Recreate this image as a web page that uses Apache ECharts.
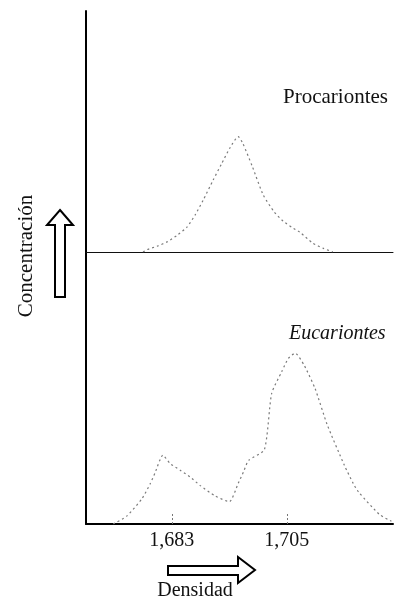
<!DOCTYPE html>
<html>
<head>
<meta charset="utf-8">
<script src="https://cdn.jsdelivr.net/npm/echarts@6/dist/echarts.min.js"></script>
<style>
  html, body { margin: 0; padding: 0; background: #fff; }
  #chart { width: 401px; height: 600px; }
</style>
</head>
<body>
<div id="chart"></div>
<script>
// Density axis range and labelled ticks
const densityMin = 1.6666;
const densityMax = 1.7253;
const tickValues = [1.683, 1.705];
const tickLabels = ['1,683', '1,705'];

// Prokaryote band: [density, concentration]
const procariontes = [
  [1.6775, 0], [1.6783, 1.0], [1.6802, 2.4], [1.6822, 4.3], [1.6840, 6.9],
  [1.6859, 10.3], [1.6875, 15.5], [1.6890, 21.5], [1.6909, 29.8], [1.6925, 36.5],
  [1.6942, 43.5], [1.6957, 47.9], [1.6966, 45.0], [1.6984, 35.5], [1.7005, 23.6],
  [1.7026, 16.6], [1.7043, 12.8], [1.7060, 10.2], [1.7075, 8.2], [1.7100, 3.6],
  [1.7120, 1.5], [1.7138, 0]
];

// Eukaryote bands: [density, concentration]
const eucariontes = [
  [1.6718, 0], [1.6744, 2.9], [1.6773, 9.3], [1.6789, 14.9], [1.6798, 18.8],
  [1.6813, 25.3], [1.6827, 22.2], [1.6846, 19.8], [1.6865, 17.3], [1.6884, 14.2],
  [1.6913, 10.3], [1.6940, 8.2], [1.6957, 14.9], [1.6967, 19.1], [1.6977, 23.4],
  [1.7007, 27.3], [1.7021, 48.0], [1.7040, 55.9], [1.7053, 60.9], [1.7066, 62.8],
  [1.7083, 58.4], [1.7104, 49.8], [1.7127, 36.6], [1.7160, 21.6], [1.7177, 14.9],
  [1.7187, 11.8], [1.7227, 3.5], [1.7250, 1.0]
];

const serif = '"Liberation Serif", "DejaVu Serif", serif';
const curveStyle = { color: '#7a7a7a', width: 1.2, type: [2, 3] };

const chart = echarts.init(document.getElementById('chart'), null, { renderer: 'canvas' });

chart.setOption({
  backgroundColor: '#fff',
  animation: false,
  grid: [
    { left: 86, right: 8, top: 11, bottom: 348 },
    { left: 86, right: 8, top: 252, bottom: 76 }
  ],
  xAxis: [
    {
      type: 'value', gridIndex: 0, min: densityMin, max: densityMax,
      axisLine: { show: true, lineStyle: { color: '#111', width: 1 } },
      axisTick: { show: false }, axisLabel: { show: false }, splitLine: { show: false }
    },
    {
      type: 'value', gridIndex: 1, min: densityMin, max: densityMax,
      axisLine: { show: true, lineStyle: { color: '#000', width: 2 } },
      axisTick: {
        show: true, inside: true, length: 11, customValues: tickValues,
        lineStyle: { color: '#777', width: 1, type: [2, 2] }
      },
      axisLabel: {
        show: true, customValues: tickValues, margin: 7,
        formatter: v => tickLabels[tickValues.indexOf(v)] ?? '',
        fontFamily: serif, fontSize: 20, color: '#111'
      },
      splitLine: { show: false }
    }
  ],
  yAxis: [
    {
      type: 'value', gridIndex: 0, min: 0, max: 100,
      axisLine: { show: true, lineStyle: { color: '#000', width: 2 } },
      axisTick: { show: false }, axisLabel: { show: false }, splitLine: { show: false }
    },
    {
      type: 'value', gridIndex: 1, min: 0, max: 100,
      axisLine: { show: true, lineStyle: { color: '#000', width: 2 } },
      axisTick: { show: false }, axisLabel: { show: false }, splitLine: { show: false }
    }
  ],
  series: [
    {
      name: 'Procariontes', type: 'line', xAxisIndex: 0, yAxisIndex: 0,
      data: procariontes, symbol: 'none', smooth: 0.2, lineStyle: curveStyle
    },
    {
      name: 'Eucariontes', type: 'line', xAxisIndex: 1, yAxisIndex: 1,
      data: eucariontes, symbol: 'none', smooth: 0.2, lineStyle: curveStyle
    }
  ],
  graphic: [
    {
      type: 'text', x: 283, y: 97,
      style: { text: 'Procariontes', font: '21px ' + serif, fill: '#111', verticalAlign: 'middle' }
    },
    {
      type: 'text', x: 289, y: 334,
      style: { text: 'Eucariontes', font: 'italic 20px ' + serif, fill: '#111', verticalAlign: 'middle' }
    },
    {
      type: 'text', x: 26, y: 256, rotation: Math.PI / 2,
      style: {
        text: 'Concentración', font: '21px ' + serif, fill: '#111',
        align: 'center', verticalAlign: 'middle'
      }
    },
    {
      type: 'text', x: 195, y: 591,
      style: {
        text: 'Densidad', font: '20px ' + serif, fill: '#111',
        align: 'center', verticalAlign: 'middle'
      }
    },
    // upward hollow arrow beside the concentration label
    {
      type: 'polygon',
      shape: { points: [[60, 210], [73, 225], [65, 225], [65, 297], [55, 297], [55, 225], [47, 225]] },
      style: { fill: '#fff', stroke: '#000', lineWidth: 2 }
    },
    // rightward hollow arrow above the density label
    {
      type: 'polygon',
      shape: { points: [[168, 566], [238, 566], [238, 557], [255, 570], [238, 583], [238, 575], [168, 575]] },
      style: { fill: '#fff', stroke: '#000', lineWidth: 2 }
    }
  ]
});
</script>
</body>
</html>
